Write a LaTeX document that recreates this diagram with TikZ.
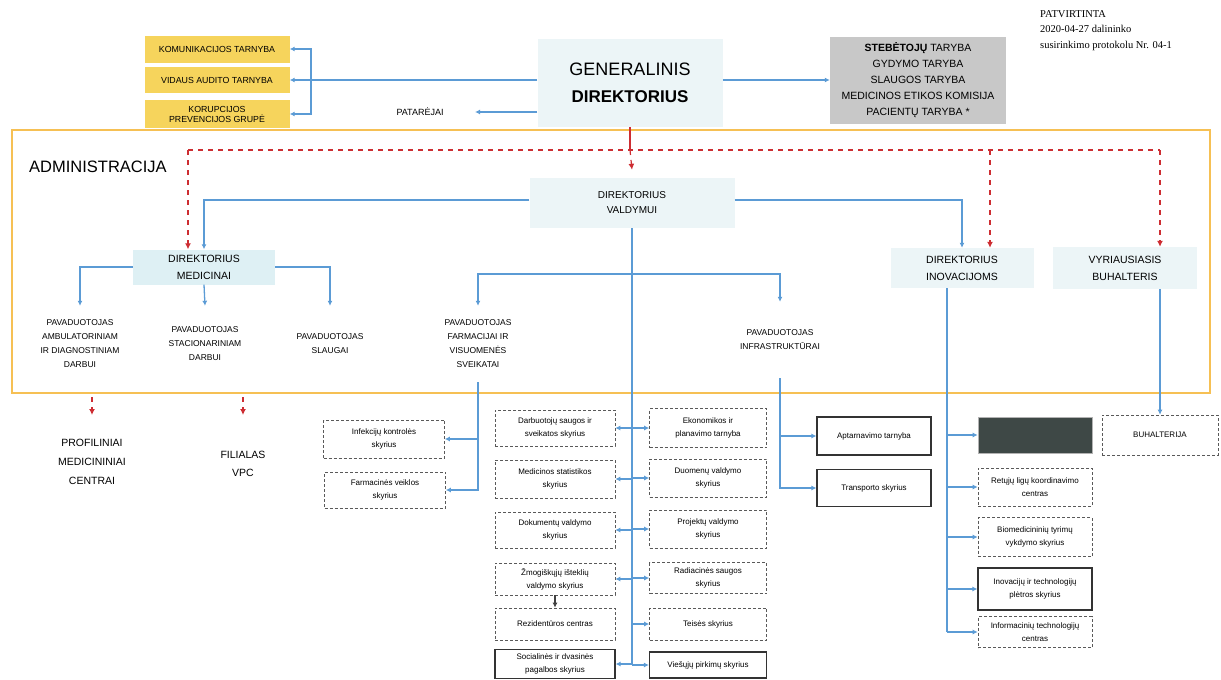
\documentclass[tikz,border=0pt]{standalone}
\usepackage{fontspec}
\setmainfont{Liberation Sans}
\newfontfamily\approvefont{Liberation Serif}
\usetikzlibrary{arrows.meta}
\definecolor{orgblue}{RGB}{91,155,213}
\definecolor{orgred}{RGB}{205,45,50}
\definecolor{yelfill}{RGB}{246,212,92}
\definecolor{grayfill}{RGB}{200,200,200}
\definecolor{lightfill}{RGB}{236,245,247}
\definecolor{medfill}{RGB}{222,240,244}
\definecolor{framecol}{RGB}{246,192,84}
\definecolor{darkfill}{RGB}{62,72,70}
\newcommand{\setfs}[2]{\fontsize{#1}{#2}\selectfont}

\begin{document}
\begin{tikzpicture}[x=1pt,y=1pt]
  \tikzset{
    litebox/.style={fill=lightfill,align=center},
    yelbox/.style={fill=yelfill,align=center,minimum width=145,inner sep=1pt,font=\setfs{8.8}{10}},
    pavtext/.style={align=center,minimum height=76,inner sep=0pt,font=\setfs{8.5}{14}},
    unit/.style={draw=gray!70!black,densely dashed,line width=0.6pt,align=center,inner sep=1pt,font=\setfs{8}{13}},
    unitsolid/.style={unit,solid,draw=black!80,line width=1.2pt},
    bl/.style={draw=orgblue,line width=1.3pt},
    blarr/.style={bl,-{Latex[length=5pt,width=5pt]}},
    rd/.style={draw=orgred,line width=1.2pt,dash pattern=on 5pt off 5pt},
    rdarr/.style={rd,-{Latex[length=6pt,width=6pt]}}
  }
  \useasboundingbox (0,0) rectangle (1221,-680);

  \node[draw=framecol,line width=2pt,minimum width=1198,minimum height=263,inner sep=0pt] (admin) at (611,-261.5) {};
  \node[anchor=west,inner sep=0pt,font=\setfs{16.5}{18}] (adm-lbl) at (29,-167) {ADMINISTRACIJA};

  \node[yelbox,minimum height=27] (kom) at (217,-49) {KOMUNIKACIJOS TARNYBA};
  \node[yelbox,minimum height=26] (vid) at (217,-80) {VIDAUS AUDITO TARNYBA};
  \node[yelbox,minimum height=28] (kor) at (217,-114) {KORUPCIJOS\\PREVENCIJOS GRUPĖ};
  \node[font=\setfs{9}{11}] (pat) at (420,-112) {PATARĖJAI};
  \node[litebox,minimum width=185,minimum height=88,font=\setfs{18}{27}] (gd) at (630,-83)
    {GENERALINIS\\{\setfs{17}{27}\bfseries DIREKTORIUS}};
  \node[fill=grayfill,minimum width=176,minimum height=87,align=center,font=\setfs{10.5}{16}] (obs) at (918,-80)
    {\textbf{STEBĖTOJŲ} TARYBA\\GYDYMO TARYBA\\SLAUGOS TARYBA\\MEDICINOS ETIKOS KOMISIJA\\PACIENTŲ TARYBA *};
  \node[anchor=north west,align=left,inner sep=0pt,font=\approvefont\setfs{10.5}{15.5}] (approve) at (1040,-10)
    {PATVIRTINTA\\2020-04-27 dalininko\\susirinkimo protokolu Nr. 04-1};

  \node[litebox,minimum width=205,minimum height=50,font=\setfs{10}{15}] (dv) at (632,-203) {DIREKTORIUS\\VALDYMUI};
  \node[litebox,fill=medfill,minimum width=142,minimum height=35,font=\setfs{10.5}{17}] (dm) at (204,-267) {DIREKTORIUS\\MEDICINAI};
  \node[litebox,minimum width=143,minimum height=40,font=\setfs{10.5}{17}] (di) at (962,-268) {DIREKTORIUS\\INOVACIJOMS};
  \node[litebox,minimum width=144,minimum height=42,font=\setfs{10.5}{17}] (vb) at (1125,-268) {VYRIAUSIASIS\\BUHALTERIS};

  \node[pavtext] (pav-amb) at (80,-344) {PAVADUOTOJAS\\AMBULATORINIAM\\IR DIAGNOSTINIAM\\DARBUI};
  \node[pavtext] (pav-stac) at (205,-344) {PAVADUOTOJAS\\STACIONARINIAM\\DARBUI};
  \node[pavtext] (pav-sla) at (330,-344) {PAVADUOTOJAS\\SLAUGAI};
  \node[pavtext] (pav-farm) at (478,-344) {PAVADUOTOJAS\\FARMACIJAI IR\\VISUOMENĖS\\SVEIKATAI};
  \node[pavtext] (pav-infra) at (780,-340) {PAVADUOTOJAS\\INFRASTRUKTŪRAI};

  \node[align=center,font=\setfs{10.5}{19}] (prof) at (92,-462) {PROFILINIAI\\MEDICININIAI\\CENTRAI};
  \node[align=center,font=\setfs{10.5}{18}] (fil) at (243,-464) {FILIALAS\\VPC};

  \node[unit,minimum width=121,minimum height=38] (ik) at (384,-439) {Infekcijų kontrolės\\skyrius};
  \node[unit,minimum width=121,minimum height=36] (fv) at (385,-490) {Farmacinės veiklos\\skyrius};

  \node[unit,minimum width=120,minimum height=36] (ds) at (555,-428) {Darbuotojų saugos ir\\sveikatos skyrius};
  \node[unit,minimum width=120,minimum height=38] (ms) at (555,-479) {Medicinos statistikos\\skyrius};
  \node[unit,minimum width=120,minimum height=36] (dok) at (555,-530) {Dokumentų valdymo\\skyrius};
  \node[unit,minimum width=120,minimum height=32] (zmog) at (555,-579) {Žmogiškųjų išteklių\\valdymo skyrius};
  \node[unit,minimum width=120,minimum height=32] (rez) at (555,-624) {Rezidentūros centras};
  \node[unitsolid,minimum width=120,minimum height=29] (soc) at (555,-664) {Socialinės ir dvasinės\\pagalbos skyrius};

  \node[unit,minimum width=117,minimum height=39] (ekon) at (708,-428) {Ekonomikos ir\\planavimo tarnyba};
  \node[unit,minimum width=117,minimum height=38] (duom) at (708,-478) {Duomenų valdymo\\skyrius};
  \node[unit,minimum width=117,minimum height=38] (proj) at (708,-529) {Projektų valdymo\\skyrius};
  \node[unit,minimum width=117,minimum height=31] (rad) at (708,-578) {Radiacinės saugos\\skyrius};
  \node[unit,minimum width=117,minimum height=32] (teis) at (708,-624) {Teisės skyrius};
  \node[unitsolid,minimum width=117,minimum height=26] (vp) at (708,-665) {Viešųjų pirkimų skyrius};

  \node[unitsolid,minimum width=114,minimum height=38] (apt) at (874,-436) {Aptarnavimo tarnyba};
  \node[unitsolid,minimum width=114,minimum height=37] (tr) at (874,-488) {Transporto skyrius};

  \node[unit,solid,draw=gray!60,fill=darkfill,minimum width=114,minimum height=36] (dark) at (1035,-435) {};
  \node[unit,minimum width=114,minimum height=38] (rlk) at (1035,-487) {Retųjų ligų koordinavimo\\centras};
  \node[unit,minimum width=114,minimum height=39] (bio) at (1035,-537) {Biomedicininių tyrimų\\vykdymo skyrius};
  \node[unitsolid,minimum width=114,minimum height=42] (ino) at (1035,-589) {Inovacijų ir technologijų\\plėtros skyrius};
  \node[unit,minimum width=114,minimum height=31] (inf) at (1035,-632) {Informacinių technologijų\\centras};
  \node[unit,minimum width=116,minimum height=40] (buh) at (1160,-435) {BUHALTERIJA};

  \coordinate (brk) at (311,-80);
  \draw[blarr] (gd.west |- vid) -- (vid.east);
  \draw[blarr] (brk) |- (kom.east);
  \draw[blarr] (brk) |- (kor.east);
  \draw[blarr,shorten >=28pt] (gd.west |- pat) -- (pat.east);
  \draw[blarr] (gd.east |- obs.west) -- (obs.west);

  \coordinate (dm-in) at ([xshift=-16pt]dm.north);
  \coordinate (di-in) at ([xshift=28pt]di.north);
  \coordinate (vb-in) at (buh.north |- vb.north);
  \draw[draw=orgred,line width=1.2pt] (gd.south) -- (gd.south |- 0,-150);
  \draw[rdarr] (gd.south |- 0,-150) -- ([yshift=8pt]dv.north);
  \draw[rd] (dm-in |- 0,-150) -- (vb-in |- 0,-150);
  \draw[rdarr] (dm-in |- 0,-150) -- (dm-in);
  \draw[rdarr] (di-in |- 0,-150) -- (di-in);
  \draw[rdarr] (vb-in |- 0,-150) -- (vb-in);
  \draw[rdarr] (admin.south -| prof.north) ++(0,-3) -- ++(0,-18);
  \draw[rdarr] (admin.south -| fil.north) ++(0,-3) -- ++(0,-18);

  \draw[blarr] (dv.west |- 0,-200) -| (dm.north);
  \draw[blarr] (dv.east |- 0,-200) -| (di.north);
  \draw[blarr] (dm.west) -| (pav-amb.north);
  \draw[blarr] (dm.south) -- (pav-stac.north);
  \draw[blarr] (dm.east) -| (pav-sla.north);

  \coordinate (br) at (dv.south |- 0,-274);
  \draw[blarr] (br) -| (pav-farm.north);
  \draw[blarr] (br) -| (pav-infra.north);
  \draw[bl] (dv.south) -- (dv.south |- soc.east);
  \foreach \n in {ds,ms,dok,zmog,soc}
    \draw[blarr] (dv.south |- \n.east) -- (\n.east);
  \foreach \n in {ekon,duom,proj,rad,teis,vp}
    \draw[blarr] (dv.south |- \n.west) -- (\n.west);
  \draw[draw=black!75,line width=1.4pt,-{Latex[length=5pt,width=5pt]}] (zmog.south) -- (rez.north);

  \draw[blarr] (pav-farm.south) |- (ik.east);
  \draw[blarr] (pav-farm.south) |- (fv.east);
  \draw[blarr] (pav-infra.south) |- (apt.west);
  \draw[blarr] (pav-infra.south) |- (tr.west);

  \coordinate (di-out) at ([xshift=-15pt]di.south);
  \draw[bl] (di-out) -- (di-out |- inf.west);
  \foreach \n in {dark,rlk,bio,ino,inf}
    \draw[blarr] (di-out |- \n.west) -- (\n.west);
  \draw[blarr] (buh.north |- vb.south) -- (buh.north);
\end{tikzpicture}
\end{document}
